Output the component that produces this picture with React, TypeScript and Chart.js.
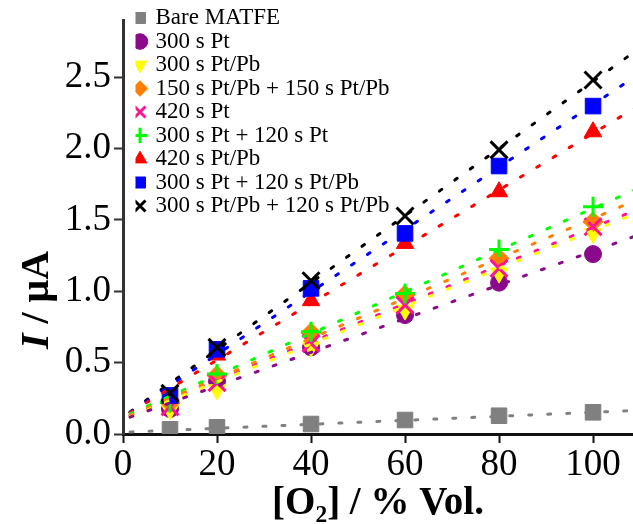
import React, { useEffect, useRef } from 'react';
import { Chart, registerables } from 'chart.js';

Chart.register(...registerables);

// ---- data ----
const xValues = [10, 20, 40, 60, 80, 100];

const seriesNames = [
  'Bare MATFE',
  '300 s Pt',
  '300 s Pt/Pb',
  '150 s Pt/Pb + 150 s Pt/Pb',
  '420 s Pt',
  '300 s Pt + 120 s Pt',
  '420 s Pt/Pb',
  '300 s Pt + 120 s Pt/Pb',
  '300 s Pt/Pb + 120 s Pt/Pb',
];

const bareMatfe = [0.033, 0.047, 0.07, 0.098, 0.128, 0.152];
const pt300 = [0.175, 0.37, 0.607, 0.833, 1.06, 1.26];
const ptPb300 = [0.17, 0.31, 0.61, 0.868, 1.127, 1.405];
const ptPb150x2 = [0.22, 0.41, 0.71, 0.975, 1.23, 1.487];
const pt420 = [0.19, 0.36, 0.635, 0.903, 1.16, 1.452];
const pt300pt120 = [0.22, 0.42, 0.716, 0.985, 1.293, 1.592];
const ptPb420 = [0.25, 0.553, 0.934, 1.335, 1.697, 2.117];
const pt300ptPb120 = [0.27, 0.593, 1.02, 1.405, 1.877, 2.297];
const ptPb300ptPb120 = [0.285, 0.607, 1.074, 1.527, 1.99, 2.48];

// linear fit lines: values at the two ends of the x range
const fitX = [1.5, 110];
const fitBare = [0.014, 0.166];
const fitPt300 = [0.118, 1.398];
const fitPtPb300 = [0.12, 1.557];
const fitPtPb150x2 = [0.131, 1.65];
const fitPt420 = [0.13, 1.58];
const fitPt300pt120 = [0.142, 1.726];
const fitPtPb420 = [0.15, 2.305];
const fitPt300ptPb120 = [0.153, 2.526];
const fitPtPb300ptPb120 = [0.155, 2.705];

const xTickValues = [0, 20, 40, 60, 80, 100];
const yTickValues = [0, 0.5, 1.0, 1.5, 2.0, 2.5];

const seriesValues = [
  bareMatfe, pt300, ptPb300, ptPb150x2, pt420, pt300pt120, ptPb420, pt300ptPb120, ptPb300ptPb120,
];
const fitValues = [
  fitBare, fitPt300, fitPtPb300, fitPtPb150x2, fitPt420, fitPt300pt120, fitPtPb420, fitPt300ptPb120, fitPtPb300ptPb120,
];

// ---- styles ----
const colors = ['#808080', '#8B0A8B', '#FFFF00', '#FF8000', '#FF1493', '#00FF00', '#FF0000', '#0000FF', '#000000'];
const pointStyles = ['rect', 'circle', 'triangle', 'rectRot', 'crossRot', 'cross', 'triangle', 'rect', 'crossRot'];
const pointRotations = [0, 0, 180, 0, 0, 0, 0, 0, 0];
const pointRadii = [11, 8.5, 10, 10, 12, 10, 10, 11, 12];
const pointBorders = [1, 1, 1, 1, 3, 3, 1, 1, 3];
const FONT = '"Liberation Serif", "Times New Roman", serif';

export default function App() {
  const canvasRef = useRef<HTMLCanvasElement | null>(null);

  useEffect(() => {
    document.body.style.margin = '0';
    document.body.style.overflow = 'hidden';
    const canvas = canvasRef.current;
    if (!canvas) return;

    const pointSets = seriesNames.map((name, i) => ({
      label: name,
      data: xValues.map((x, j) => ({ x, y: seriesValues[i][j] })),
      showLine: false,
      pointStyle: pointStyles[i],
      pointRotation: pointRotations[i],
      pointRadius: pointRadii[i],
      pointHoverRadius: pointRadii[i],
      pointBackgroundColor: colors[i],
      pointBorderColor: colors[i],
      pointBorderWidth: pointBorders[i],
      backgroundColor: colors[i],
      borderColor: colors[i],
      order: 20 - i,
    }));

    const lineSets = seriesNames.map((name, i) => ({
      label: name + ' fit',
      data: fitX.map((x, j) => ({ x, y: fitValues[i][j] })),
      showLine: true,
      pointRadius: 0,
      borderColor: colors[i],
      backgroundColor: colors[i],
      borderWidth: 3,
      borderDash: [3, 16],
      borderCapStyle: 'round',
      fill: false,
      order: 0,
    }));

    const shiftLegend = {
      id: 'shiftLegend',
      afterLayout(chart: any) {
        const l = chart.legend;
        if (!l) return;
        const h = l.bottom - l.top;
        l.left = chart.chartArea.left + 12.5;
        l.right = l.left + l.width;
        l.top = chart.chartArea.top - 14;
        l.bottom = l.top + h;
      },
    };

    const yTitle = {
      id: 'yTitle',
      afterDraw(chart: any) {
        const ctx = chart.ctx;
        ctx.save();
        ctx.translate(38, 300);
        ctx.rotate(-Math.PI / 2);
        ctx.fillStyle = '#000';
        ctx.textBaseline = 'middle';
        ctx.textAlign = 'left';
        const f1 = 'italic bold 40px ' + FONT;
        const f2 = 'bold 40px ' + FONT;
        ctx.font = f1;
        const w1 = ctx.measureText('I').width;
        ctx.font = f2;
        const rest = ' / \u03BCA';
        const w2 = ctx.measureText(rest).width;
        const start = -(w1 + w2) / 2;
        ctx.font = f1;
        ctx.fillText('I', start, 0);
        ctx.font = f2;
        ctx.fillText(rest, start + w1, 0);
        ctx.restore();
      },
    };

    const chart = new Chart(canvas, {
      type: 'scatter',
      data: { datasets: [...pointSets, ...lineSets] as any },
      options: {
        responsive: false,
        animation: false,
        devicePixelRatio: 1,
        layout: { autoPadding: false, padding: { left: 0, right: 0, top: 20, bottom: 0 } },
        plugins: {
          tooltip: { enabled: false },
          legend: {
            position: 'chartArea',
            align: 'start',
            labels: {
              usePointStyle: true,
              boxWidth: 8,
              boxHeight: 11,
              padding: 0.5,
              color: '#000',
              font: { family: FONT, size: 23 },
              filter: (item: any) => item.datasetIndex < seriesNames.length,
              sort: (a: any, b: any) => a.datasetIndex - b.datasetIndex,
            },
          },
        },
        scales: {
          x: {
            type: 'linear',
            min: 0,
            max: 108.5,
            afterFit: (s: any) => {
              s.height = 90;
              s.paddingLeft = 0;
              s.paddingRight = 0;
              s.paddingTop = 0;
              s.paddingBottom = 0;
            },
            afterBuildTicks: (s: any) => { s.ticks = xTickValues.map((v) => ({ value: v })); },
            border: { display: true, color: '#111', width: 3 },
            grid: { display: true, drawOnChartArea: false, drawTicks: true, tickLength: 9, tickWidth: 2, tickColor: '#111' },
            ticks: {
              color: '#000',
              padding: 0,
              font: { family: FONT, size: 37 },
              maxRotation: 0,
              callback: (v: any) => String(v),
            },
            title: {
              display: true,
              text: '[O\u2082] / % Vol.',
              color: '#000',
              font: { family: FONT, size: 39, weight: 'bold', lineHeight: 1 },
              padding: { top: 0, bottom: 1 },
            },
          },
          y: {
            type: 'linear',
            min: 0,
            max: 2.9,
            afterFit: (s: any) => {
              s.width = 123;
              s.paddingLeft = 0;
              s.paddingRight = 0;
              s.paddingTop = 0;
              s.paddingBottom = 0;
            },
            afterBuildTicks: (s: any) => { s.ticks = yTickValues.map((v) => ({ value: v })); },
            border: { display: true, color: '#333', width: 3 },
            grid: { display: true, drawOnChartArea: false, drawTicks: true, tickLength: 9, tickWidth: 2, tickColor: '#333' },
            ticks: {
              color: '#000',
              padding: 3,
              font: { family: FONT, size: 37 },
              callback: (v: any) => Number(v).toFixed(1),
            },
          },
        },
      },
      plugins: [shiftLegend, yTitle],
    } as any);

    return () => chart.destroy();
  }, []);

  return (
    <div style={{ width: 633, height: 524, background: '#fff' }}>
      <canvas ref={canvasRef} width={633} height={524} style={{ display: 'block' }} />
    </div>
  );
}
